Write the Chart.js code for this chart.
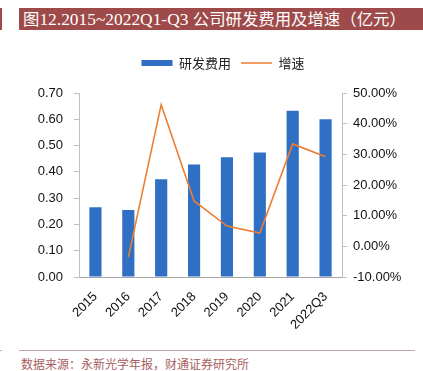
<!DOCTYPE html>
<html>
<head>
<meta charset="utf-8">
<script src="https://cdn.jsdelivr.net/npm/chart.js@4/dist/chart.umd.min.js"></script>
<style>
  body { margin: 0; background: #fff; width: 423px; height: 371px; position: relative; overflow: hidden; }
  #titleBar { position: absolute; left: 19px; top: 8px; width: 404px; height: 22px; background: #9E4A4A;
    color: #fff; font: 16.4px "Liberation Serif", "Noto Sans CJK SC", serif; line-height: 22px; padding-left: 4px; box-sizing: border-box; white-space: nowrap; }
  #titleBar .lat { font-size: 17.4px; }
  #titleMark { position: absolute; left: 0; top: 8px; width: 2px; height: 22px; background: #9E4A4A; }
  #wrap { position: absolute; left: 0; top: 40px; width: 423px; height: 300px; }
  #footLine { position: absolute; left: 19px; top: 350px; width: 396px; height: 1px; background: #C9A3A3; }
  #footMark { position: absolute; left: 0; top: 350px; width: 2px; height: 1px; background: #bbb; }
  #source { position: absolute; left: 21px; top: 357px; font: 12px "Noto Sans CJK SC", sans-serif; color: #A8605E; white-space: nowrap; line-height: 14px; }
</style>
</head>
<body>
<div id="titleMark"></div>
<div id="titleBar">图<span class="lat">12.2015~2022Q1-Q3 </span>公司研发费用及增速（亿元）</div>
<div id="wrap"><canvas id="chart" width="423" height="300"></canvas></div>
<div id="footMark"></div>
<div id="footLine"></div>
<div id="source">数据来源：永新光学年报，财通证券研究所</div>

<script>
var years = ['2015', '2016', '2017', '2018', '2019', '2020', '2021', '2022Q3'];
var rdCost = [0.265, 0.255, 0.372, 0.428, 0.456, 0.474, 0.632, 0.600];
var growth = [null, -3.6, 46.2, 14.8, 6.6, 4.3, 33.4, 29.2];

var tickFont = { family: '"Liberation Sans", Arial, sans-serif', size: 13 };

var ctx = document.getElementById('chart').getContext('2d');
var chart = new Chart(ctx, {
  type: 'bar',
  data: {
    labels: years,
    datasets: [
      {
        label: '研发费用',
        data: rdCost,
        backgroundColor: '#3070C4',
        borderWidth: 0,
        categoryPercentage: 1,
        barPercentage: 0.37,
        pointStyle: 'rect',
        yAxisID: 'y',
        order: 1
      },
      {
        type: 'line',
        label: '增速',
        data: growth,
        borderColor: '#ED7D31',
        backgroundColor: '#ED7D31',
        borderWidth: 1.6,
        pointRadius: 0,
        pointHoverRadius: 0,
        pointBorderWidth: 1.6,
        pointStyle: 'line',
        tension: 0,
        yAxisID: 'y1',
        order: 0
      }
    ]
  },
  options: {
    responsive: false,
    animation: false,
    events: [],
    layout: { padding: { left: 23, top: 6.5, right: 0, bottom: 0 } },
    plugins: {
      tooltip: { enabled: false },
      legend: {
        position: 'top',
        labels: {
          usePointStyle: true,
          pointStyleWidth: 31,
          boxHeight: 6,
          padding: 10,
          color: '#222',
          font: { family: '"Noto Sans CJK SC", sans-serif', size: 13 },
          sort: function(a, b) { return a.datasetIndex - b.datasetIndex; }
        }
      }
    },
    scales: {
      x: {
        offset: true,
        grid: { display: false },
        border: { display: true, color: '#A6A6A6' },
        ticks: { color: '#111', font: tickFont, maxRotation: 45, minRotation: 45, padding: 4 },
        afterFit: function(s) { s.height = 63; }
      },
      y: {
        position: 'left',
        min: 0,
        max: 0.7,
        grid: { drawOnChartArea: false, tickLength: 5, color: '#BFBFBF' },
        border: { display: true, color: '#BFBFBF' },
        ticks: {
          stepSize: 0.1, padding: 11, color: '#111', font: tickFont,
          callback: function(v) { return v.toFixed(2); }
        },
        afterFit: function(s) { s.width = 56; }
      },
      y1: {
        position: 'right',
        min: -10,
        max: 50,
        grid: { drawOnChartArea: false, tickLength: 5, color: '#BFBFBF' },
        border: { display: true, color: '#BFBFBF' },
        ticks: {
          stepSize: 10, padding: 6, color: '#111', font: tickFont,
          callback: function(v) { return v.toFixed(2) + '%'; }
        },
        afterFit: function(s) { s.width = 81; }
      }
    }
  }
});

// leave a gap between the legend and the plot like the original
var legendFit = chart.legend.fit;
chart.legend.fit = function() {
  legendFit.call(this);
  this.height += 13.5;
};
chart.update();
</script>
</body>
</html>
